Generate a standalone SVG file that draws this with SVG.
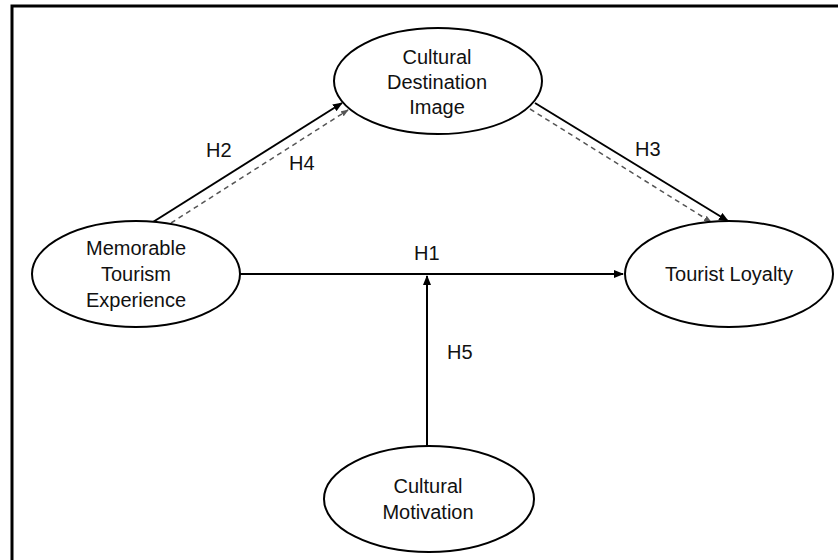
<svg xmlns="http://www.w3.org/2000/svg" width="838" height="560" viewBox="0 0 838 560">
<style>
.node ellipse{fill:#fff;stroke:#000;stroke-width:2}
.node text{font-family:"Liberation Sans",Arial,sans-serif;font-size:20px;fill:#111;text-anchor:middle}
.lbl{font-family:"Liberation Sans",Arial,sans-serif;font-size:20px;fill:#111}
.solid{stroke:#000;stroke-width:2;fill:none}
.dash{stroke:#555;stroke-width:1.5;stroke-dasharray:5 4;fill:none}
</style>
<defs>
<marker id="ah" markerWidth="10" markerHeight="8" refX="9" refY="4" orient="auto" markerUnits="userSpaceOnUse">
<path d="M0,0 L10,4 L0,8 z" fill="#000"/>
</marker>
<marker id="ahs" markerWidth="8" markerHeight="6" refX="7" refY="3" orient="auto" markerUnits="userSpaceOnUse">
<path d="M0,0 L8,3 L0,6 z" fill="#555"/>
</marker>
</defs>
<rect x="0" y="0" width="838" height="560" fill="#fff"/>
<path d="M838 6 H12 V560" fill="none" stroke="#000" stroke-width="3"/>
<g id="connectors">
<line class="solid" x1="240" y1="274" x2="623" y2="274" marker-end="url(#ah)"/>
<line class="solid" x1="427" y1="446" x2="427" y2="276" marker-end="url(#ah)"/>
<line class="solid" x1="153" y1="222" x2="342" y2="103" marker-end="url(#ah)"/>
<line class="dash" x1="171" y1="223" x2="348" y2="110" marker-end="url(#ahs)"/>
<line class="solid" x1="535" y1="103" x2="728" y2="221" marker-end="url(#ah)"/>
<line class="dash" x1="530" y1="109" x2="711" y2="222" marker-end="url(#ahs)"/>
<text class="lbl" x="206" y="157">H2</text>
<text class="lbl" x="289" y="170">H4</text>
<text class="lbl" x="635" y="156">H3</text>
<text class="lbl" x="414" y="260">H1</text>
<text class="lbl" x="447" y="359">H5</text>
</g>
<g id="cdi" class="node">
<ellipse cx="438" cy="81" rx="104" ry="53"/>
<text x="437" y="64">Cultural</text>
<text x="437" y="89">Destination</text>
<text x="437" y="114">Image</text>
</g>
<g id="mte" class="node">
<ellipse cx="136" cy="274" rx="104" ry="53"/>
<text x="136" y="255">Memorable</text>
<text x="136" y="281">Tourism</text>
<text x="136" y="307">Experience</text>
</g>
<g id="tl" class="node">
<ellipse cx="729" cy="274" rx="104" ry="53"/>
<text x="729" y="281">Tourist Loyalty</text>
</g>
<g id="cm" class="node">
<ellipse cx="429" cy="499" rx="105" ry="53"/>
<text x="428" y="493">Cultural</text>
<text x="428" y="519">Motivation</text>
</g>
</svg>
